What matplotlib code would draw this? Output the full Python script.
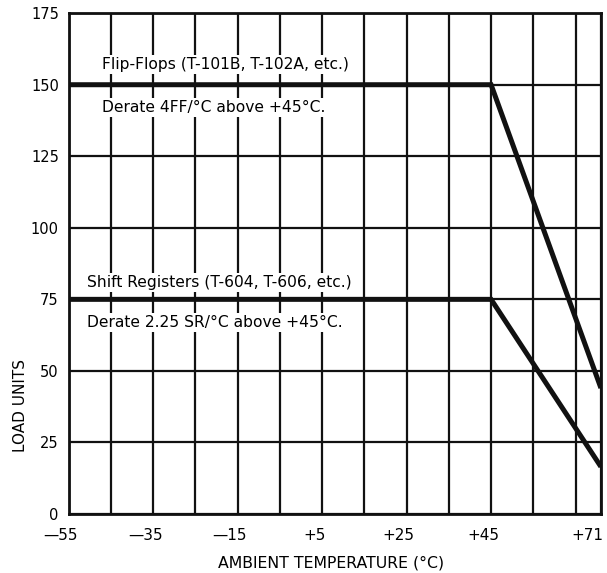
import matplotlib
matplotlib.use("Agg")
import matplotlib.pyplot as plt
import matplotlib.transforms as mtransforms

# values
temp_labeled = [-55, -35, -15, 5, 25, 45, 71]
temp_labels = ["\u201455", "\u201435", "\u201415", "+5", "+25", "+45", "+71"]
temp_grid = [-45, -25, -5, 15, 35, 55, 65]
load_ticks = [0, 25, 50, 75, 100, 125, 150, 175]

flipflop_t = [-55, 45, 71]
flipflop_load = [150, 150, 44]
shiftreg_t = [-55, 45, 71]
shiftreg_load = [75, 75, 16.5]

plt.rcParams['font.family'] = ['DejaVu Sans']

fig = plt.figure(figsize=(6.07, 5.73), dpi=100)
ax = fig.add_axes([0.113, 0.103, 0.877, 0.874])

ax.set_xlim(-55, 71)
ax.set_ylim(0, 175)

# grid: every 10 deg and every 25 units
for t in temp_labeled + temp_grid:
    ax.axvline(t, color='#111111', lw=1.6, zorder=1)
for v in load_ticks:
    ax.axhline(v, color='#111111', lw=1.6, zorder=1)

ax.plot(flipflop_t, flipflop_load, color='#111111', lw=3.6, zorder=3,
        solid_joinstyle='miter', solid_capstyle='butt')
ax.plot(shiftreg_t, shiftreg_load, color='#111111', lw=3.6, zorder=3,
        solid_joinstyle='miter', solid_capstyle='butt')

box = dict(facecolor='white', edgecolor='none', pad=1.5)
ax.text(-47, 157, "Flip-Flops (T-101B, T-102A, etc.)", fontsize=11.2,
        va='center', ha='left', bbox=box, zorder=2)
ax.text(-47, 142, "Derate 4FF/\u00b0C above +45\u00b0C.", fontsize=11.2,
        va='center', ha='left', bbox=box, zorder=2)
ax.text(-50.7, 81, "Shift Registers (T-604, T-606, etc.)", fontsize=11.2,
        va='center', ha='left', bbox=box, zorder=2)
ax.text(-50.7, 67, "Derate 2.25 SR/\u00b0C above +45\u00b0C.", fontsize=11.2,
        va='center', ha='left', bbox=box, zorder=2)

ax.set_xticks(temp_labeled)
ax.set_xticklabels(temp_labels, fontsize=11)
ax.set_yticks(load_ticks)
ax.set_yticklabels([str(v) for v in load_ticks], fontsize=10.5)
ax.tick_params(length=0)
ax.tick_params(axis='x', pad=10)
ax.tick_params(axis='y', pad=7)

# labels sit a little left of their grid line in the original
labels = ax.get_xticklabels()
for i, lab in enumerate(labels):
    dx = -14 if i == len(labels) - 1 else -8
    shift = mtransforms.ScaledTranslation(dx / 100, 0, fig.dpi_scale_trans)
    lab.set_transform(lab.get_transform() + shift)

for s in ax.spines.values():
    s.set_linewidth(2)
    s.set_color('#111111')

fig.text(0.545, 1 - 563 / 573, "AMBIENT TEMPERATURE (\u00b0C)", fontsize=11.3,
         ha='center', va='center')
fig.text(0.033, 1 - 405 / 573, "LOAD UNITS", fontsize=11, rotation=90,
         ha='center', va='center')

fig.savefig("out.png", dpi=100)
